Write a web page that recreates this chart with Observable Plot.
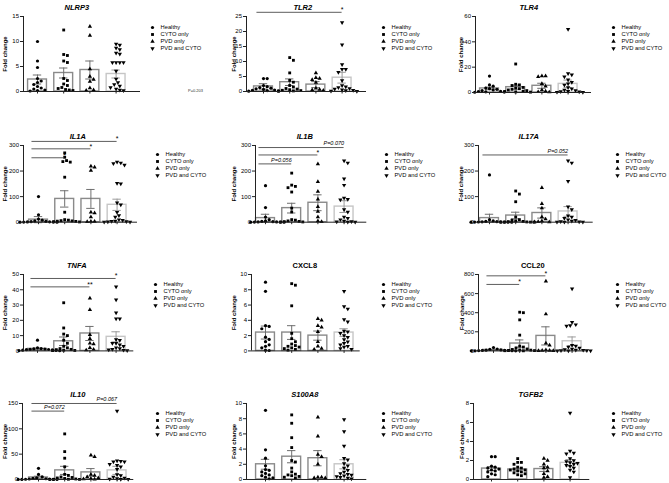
<!DOCTYPE html>
<html><head><meta charset="utf-8">
<script src="https://cdn.jsdelivr.net/npm/d3@7"></script>
<script src="https://cdn.jsdelivr.net/npm/@observablehq/plot@0.6"></script>
<style>
body{margin:0;background:#fff;}
#chart{position:relative;width:669px;height:483px;overflow:hidden;background:#fff;font-family:"Liberation Sans",Arial,sans-serif;}
.note{position:absolute;font-size:4px;color:#333;white-space:nowrap;}
</style></head><body><div id="chart"></div>
<script>
const groups = ["Healthy", "CYTO only", "PVD only", "PVD and CYTO"];

// ---- NLRP3 ----
const nlrp3Values = [
  [10.0, 6.1, 4.8, 2.6, 2.1, 1.8, 1.4, 1.0, 0.7, 0.5, 0.3, 0.2, 0.1],
  [12.3, 7.4, 7.2, 6.1, 5.8, 2.6, 2.2, 1.5, 1.2, 0.8, 0.6, 0.4, 0.3, 0.2],
  [13.0, 11.2, 4.5, 3.0, 2.4, 2.0, 0.7, 0.3, 0.2],
  [9.5, 9.3, 8.7, 8.4, 7.7, 7.5, 5.8, 5.8, 5.8, 5.8, 4.1, 2.5, 1.8, 1.4, 1.1, 0.8, 0.5, 0.3, 0.2]
];
const nlrp3Means = [2.4, 3.7, 4.3, 3.5];
const nlrp3Sems = [0.9, 1.0, 1.8, 0.8];
const nlrp3Ticks = [0, 5, 10, 15];
const nlrp3Sig = [];
const nlrp3Note = "P=0.203";

// ---- TLR2 ----
const tlr2Values = [
  [4.3, 4.3, 2.0, 1.6, 1.3, 1.1, 0.9, 0.7, 0.5, 0.4, 0.3, 0.2, 0.1],
  [11.3, 10.4, 6.2, 3.7, 3.1, 2.0, 1.5, 1.0, 0.8, 0.6, 0.4, 0.3, 0.2, 0.1],
  [6.2, 4.6, 4.3, 3.9, 3.0, 1.1, 0.7, 0.5, 0.3],
  [23.0, 15.6, 9.0, 7.4, 7.4, 6.4, 3.7, 2.0, 1.6, 1.3, 1.0, 0.8, 0.6, 0.4, 0.3, 0.2, 0.1]
];
const tlr2Means = [1.7, 3.1, 2.3, 4.6];
const tlr2Sems = [0.9, 1.1, 1.0, 1.8];
const tlr2Ticks = [0, 5, 10, 15, 20, 25];
const tlr2Sig = [{from: "Healthy", to: "PVD and CYTO", level: 26.4, label: "*"}];

// ---- TLR4 ----
const tlr4Values = [
  [13, 6, 5, 3.5, 3, 2.5, 2, 1.5, 1, 0.8, 0.5, 0.3, 0.2],
  [22.5, 6.5, 6, 5.5, 4, 3.5, 3, 2.5, 2, 1.5, 1, 0.8, 0.5, 0.3],
  [13, 13, 12.5, 7, 5, 2, 1, 0.5, 0.3],
  [50, 15, 14, 12.5, 10, 8, 7, 6, 4, 3, 2, 1.5, 1, 0.8, 0.5, 0.3, 0.2]
];
const tlr4Means = [3.2, 4.2, 5.3, 6.8];
const tlr4Sems = [1.0, 1.6, 2.0, 3.0];
const tlr4Ticks = [0, 20, 40, 60];
const tlr4Sig = [];

// ---- IL1A ----
const il1aValues = [
  [100, 29, 12, 8, 5, 3, 2, 1.5, 1, 0.5, 0.3, 0.2, 0.1],
  [271, 254, 241, 237, 235, 176, 39, 10, 8, 6, 5, 4, 3, 2, 1],
  [219, 215, 202, 39, 36, 20, 3, 3, 2],
  [235, 232, 230, 224, 152, 150, 76, 68, 39, 26, 20, 10, 8, 5, 4, 3, 2, 1, 0.5]
];
const il1aMeans = [10, 91, 91, 68];
const il1aSems = [12, 32, 37, 22];
const il1aTicks = [0, 100, 200, 300];
const il1aSig = [
  {from: "Healthy", to: "PVD and CYTO", level: 316, label: "*"},
  {from: "Healthy", to: "PVD only", level: 287, label: "*"},
  {from: "Healthy", to: "CYTO only", level: 252, label: "*"}
];

// ---- IL1B ----
const il1bValues = [
  [143, 57, 20, 10, 5, 3, 2, 1, 1, 0.5, 0.3, 0.2, 0.1],
  [192, 145, 140, 135, 118, 55, 40, 10, 8, 5, 3, 2, 1, 0.5],
  [228, 158, 120, 90, 60, 42, 20, 5, 2],
  [240, 232, 170, 145, 95, 90, 88, 50, 40, 20, 15, 10, 5, 3, 2, 1, 0.5]
];
const il1bMeans = [16, 55, 76, 61];
const il1bSems = [15, 19, 31, 23];
const il1bTicks = [0, 100, 200, 300];
const il1bSig = [
  {from: "Healthy", to: "PVD and CYTO", level: 292, label: "P=0.070"},
  {from: "Healthy", to: "PVD only", level: 263, label: "*"},
  {from: "Healthy", to: "CYTO only", level: 228, label: "P=0.056"}
];

// ---- IL17A ----
const il17aValues = [
  [185, 10, 5, 3, 2, 1.5, 1, 0.8, 0.5, 0.3, 0.2, 0.1, 0.1],
  [122, 110, 80, 20, 10, 8, 5, 3, 2, 1, 0.5, 0.3, 0.2, 0.1],
  [135, 72, 55, 20, 12, 5, 2, 1, 0.5],
  [240, 232, 160, 60, 50, 25, 20, 15, 10, 8, 5, 3, 2, 1, 0.5, 0.3]
];
const il17aMeans = [16, 26, 36, 42];
const il17aSems = [15, 13, 20, 19];
const il17aTicks = [0, 100, 200, 300];
const il17aSig = [{from: "Healthy", to: "PVD and CYTO", level: 263, label: "P=0.052"}];

// ---- TNFA ----
const tnfaValues = [
  [7, 2, 1.5, 1.3, 1.2, 1, 0.9, 0.8, 0.6, 0.5, 0.3, 0.2, 0.1],
  [31.5, 15, 11, 10, 7, 5, 3, 2, 1.5, 1, 0.8, 0.5, 0.3, 0.2],
  [34.5, 27, 10.5, 8, 5, 4.5, 2, 1, 0.5],
  [42, 33.5, 25, 21, 21, 7.5, 7, 5, 5, 4, 3, 2, 1.5, 1, 0.8, 0.5, 0.3]
];
const tnfaMeans = [1.3, 6.3, 11.4, 9.2];
const tnfaSems = [0.5, 2.8, 4.6, 3.3];
const tnfaTicks = [0, 10, 20, 30, 40, 50];
const tnfaSig = [
  {from: "Healthy", to: "PVD and CYTO", level: 47.4, label: "*"},
  {from: "Healthy", to: "PVD only", level: 41.9, label: "**"}
];

// ---- CXCL8 ----
const cxcl8Values = [
  [9.0, 7.8, 3.3, 3.2, 2.9, 1.8, 1.5, 1.2, 0.8, 0.6, 0.4, 0.1, 0.05],
  [8.8, 8.6, 5.9, 2.3, 1.6, 1.2, 0.9, 0.7, 0.6, 0.5, 0.4, 0.3, 0.2, 0.1],
  [4.2, 4.0, 3.3, 3.1, 2.5, 1.2, 0.6, 0.3, 0.2],
  [7.8, 5.8, 5.5, 4.1, 3.8, 2.6, 2.5, 2.3, 2.0, 1.8, 1.5, 1.2, 1.0, 0.8, 0.6, 0.5, 0.3, 0.2]
];
const cxcl8Means = [2.4, 2.4, 2.0, 2.4];
const cxcl8Sems = [0.85, 0.9, 0.6, 0.5];
const cxcl8Ticks = [0, 2, 4, 6, 8, 10];
const cxcl8Sig = [];

// ---- CCL20 ----
const ccl20Values = [
  [35, 20, 15, 10, 8, 6, 5, 4, 3, 2, 1, 0.5, 0.3],
  [405, 400, 325, 165, 50, 40, 30, 20, 15, 10, 8, 5, 3, 2, 1],
  [730, 385, 80, 60, 10, 5, 3, 2, 1],
  [650, 300, 275, 265, 260, 60, 50, 40, 30, 20, 15, 10, 8, 5, 3, 2, 1, 0.5]
];
const ccl20Means = [10, 77, 157, 101];
const ccl20Sems = [4, 38, 95, 45];
const ccl20Ticks = [0, 200, 400, 600, 800];
const ccl20Sig = [
  {from: "Healthy", to: "PVD only", level: 786, label: "*"},
  {from: "Healthy", to: "CYTO only", level: 696, label: "*"}
];

// ---- IL10 ----
const il10Values = [
  [22, 10, 5, 3, 2, 1.5, 1, 0.8, 0.5, 0.3, 0.2, 0.1, 0.1],
  [90, 55, 42, 25, 10, 8, 5, 4, 3, 2, 1, 0.5, 0.3, 0.2, 0.1],
  [48, 45, 10, 8, 5, 3, 2, 1, 0.5],
  [135, 37, 36, 35, 35, 30, 28, 25, 20, 10, 8, 5, 3, 2, 1, 0.5, 0.3]
];
const il10Means = [4, 18, 14, 18];
const il10Sems = [2.5, 8, 7.5, 8];
const il10Ticks = [0, 50, 100, 150];
const il10Sig = [
  {from: "Healthy", to: "PVD and CYTO", level: 150, label: "P=0.067"},
  {from: "Healthy", to: "CYTO only", level: 135, label: "P=0.072"}
];

// ---- S100A8 ----
const s100a8Values = [
  [9.1, 3.9, 2.8, 1.8, 1.3, 1.2, 1.0, 0.8, 0.6, 0.5, 0.3, 0.2, 0.1],
  [8.5, 7.4, 5.5, 4.2, 2.5, 2.3, 1.5, 1.0, 0.7, 0.6, 0.5, 0.4, 0.3, 0.2],
  [8.2, 5.7, 3.3, 3.0, 2.0, 0.3, 0.3, 0.2, 0.2],
  [7.9, 6.3, 4.4, 2.8, 2.6, 2.1, 1.8, 1.5, 1.2, 1.0, 0.8, 0.7, 0.6, 0.5, 0.4, 0.3, 0.2, 0.1]
];
const s100a8Means = [2.0, 3.0, 2.8, 2.0];
const s100a8Sems = [0.65, 0.8, 1.0, 0.6];
const s100a8Ticks = [0, 2, 4, 6, 8, 10];
const s100a8Sig = [];

// ---- TGFB2 ----
const tgfb2Values = [
  [2.4, 2.4, 1.4, 1.3, 1.2, 1.1, 1.0, 0.9, 0.8, 0.6, 0.5, 0.3],
  [2.2, 1.8, 1.8, 1.6, 1.3, 1.2, 1.1, 1.0, 1.0, 0.9, 0.8, 0.7, 0.6, 0.5, 0.4],
  [2.2, 2.0, 1.6, 1.3, 1.2, 0.9, 0.6, 0.3, 0.2],
  [7.0, 3.0, 2.8, 2.7, 2.2, 2.0, 1.9, 1.8, 1.7, 1.6, 1.5, 1.4, 1.2, 1.0, 0.8, 0.2]
];
const tgfb2Means = [1.15, 1.05, 1.1, 1.75];
const tgfb2Sems = [0.2, 0.15, 0.25, 0.35];
const tgfb2Ticks = [0, 2, 4, 6, 8];
const tgfb2Sig = [];

// ---- panel layout (page pixels) ----
const panels = [
  {title: "NLRP3", italic: true, values: nlrp3Values, means: nlrp3Means, sems: nlrp3Sems, ticks: nlrp3Ticks, sig: nlrp3Sig, axisX: 23, xEnd: 140, yTop: 16, yBot: 91, first: 14, legendX: 152, legendY: 22, labelX: 4.5},
  {title: "TLR2", italic: true, values: tlr2Values, means: tlr2Means, sems: tlr2Sems, ticks: tlr2Ticks, sig: tlr2Sig, axisX: 246, xEnd: 366, yTop: 16, yBot: 91, first: 17, legendX: 383, legendY: 22, labelX: 233.5},
  {title: "TLR4", italic: true, values: tlr4Values, means: tlr4Means, sems: tlr4Sems, ticks: tlr4Ticks, sig: tlr4Sig, axisX: 475, xEnd: 591, yTop: 16, yBot: 92, first: 14, legendX: 613, legendY: 22, labelX: 461},
  {title: "IL1A", italic: true, values: il1aValues, means: il1aMeans, sems: il1aSems, ticks: il1aTicks, sig: il1aSig, axisX: 23, xEnd: 137, yTop: 145, yBot: 221.7, first: 15, legendX: 157, legendY: 149.3, labelX: 4.5},
  {title: "IL1B", italic: true, values: il1bValues, means: il1bMeans, sems: il1bSems, ticks: il1bTicks, sig: il1bSig, axisX: 254.7, xEnd: 366, yTop: 145, yBot: 221.7, first: 10, legendX: 386, legendY: 149.3, labelX: 233.5},
  {title: "IL17A", italic: true, values: il17aValues, means: il17aMeans, sems: il17aSems, ticks: il17aTicks, sig: il17aSig, axisX: 478, xEnd: 592.7, yTop: 145, yBot: 221.7, first: 11, legendX: 616.5, legendY: 149.3, labelX: 461},
  {title: "TNFA", italic: true, values: tnfaValues, means: tnfaMeans, sems: tnfaSems, ticks: tnfaTicks, sig: tnfaSig, axisX: 22.7, xEnd: 133, yTop: 274.3, yBot: 350.7, first: 14, legendX: 155, legendY: 279.3, labelX: 4.5},
  {title: "CXCL8", italic: false, values: cxcl8Values, means: cxcl8Means, sems: cxcl8Sems, ticks: cxcl8Ticks, sig: cxcl8Sig, axisX: 251, xEnd: 359.7, yTop: 274.3, yBot: 350.7, first: 14, legendX: 383, legendY: 279.3, labelX: 233.5},
  {title: "CCL20", italic: false, values: ccl20Values, means: ccl20Means, sems: ccl20Sems, ticks: ccl20Ticks, sig: ccl20Sig, axisX: 477.7, xEnd: 586, yTop: 274.3, yBot: 350.7, first: 15, legendX: 616.5, legendY: 279.3, labelX: 461},
  {title: "IL10", italic: true, values: il10Values, means: il10Means, sems: il10Sems, ticks: il10Ticks, sig: il10Sig, axisX: 21.7, xEnd: 133, yTop: 403.3, yBot: 479.3, first: 16, legendX: 157, legendY: 408.3, labelX: 4.5},
  {title: "S100A8", italic: true, values: s100a8Values, means: s100a8Means, sems: s100a8Sems, ticks: s100a8Ticks, sig: s100a8Sig, axisX: 245.7, xEnd: 366, yTop: 403.3, yBot: 479.3, first: 19, legendX: 383, legendY: 408.3, labelX: 233.5},
  {title: "TGFB2", italic: true, values: tgfb2Values, means: tgfb2Means, sems: tgfb2Sems, ticks: tgfb2Ticks, sig: tgfb2Sig, axisX: 472.7, xEnd: 589, yTop: 403.3, yBot: 479.3, first: 18, legendX: 613, legendY: 408.3, labelX: 461}
];

const SP = 26.2;          // px per group step
const BW = 0.72;          // bar width (group units)
const CAP = 0.16;         // error cap half width (group units)
const R = 1.6;            // dot radius
const barColors = ["#8a8a8a", "#8a8a8a", "#8a8a8a", "#c6c6c6"];
const errColors = ["#6e6e6e", "#6e6e6e", "#6e6e6e", "#9a9a9a"];
const FONT = "'Liberation Sans', Arial, Helvetica, sans-serif";

const triangleDown = {
  draw(context, size) {
    const y = -Math.sqrt(size / (Math.sqrt(3) * 3));
    context.moveTo(0, -y * 2);
    context.lineTo(-Math.sqrt(3) * y, y);
    context.lineTo(Math.sqrt(3) * y, y);
    context.closePath();
  }
};
const symbols = ["circle", "square", "triangle", triangleDown];

function swarm(values, toPx, r) {
  const order = values.map((v, i) => i).sort((a, b) => values[b] - values[a]);
  const placed = [];
  const out = new Array(values.length);
  const d = 2 * r + 0.5;
  for (const i of order) {
    const y = toPx(values[i]);
    let off = 0;
    for (let k = 0; k < 80; k++) {
      const o = k === 0 ? 0 : (k % 2 ? 1 : -1) * Math.ceil(k / 2) * d / 2;
      if (placed.every(p => (p.x - o) ** 2 + (p.y - y) ** 2 >= d * d)) { off = o; break; }
    }
    placed.push({x: off, y});
    out[i] = off;
  }
  return out;
}

const chart = document.getElementById("chart");

function place(svg, left, top) {
  svg.setAttribute("font-family", FONT);
  svg.style.position = "absolute";
  svg.style.left = left + "px";
  svg.style.top = top + "px";
  svg.style.overflow = "visible";
  svg.style.background = "transparent";
  svg.style.maxWidth = "none";
  chart.appendChild(svg);
}

for (const p of panels) {
  const mL = 26, mR = 2, mT = 16, mB = 5;
  const plotW = p.xEnd - p.axisX, plotH = p.yBot - p.yTop;
  const max = p.ticks[p.ticks.length - 1];
  const x0 = -p.first / SP, x1 = (plotW - p.first) / SP;
  const toPx = v => v / max * plotH;
  const bars = groups.map((g, i) => ({g, i, mean: p.means[i], sem: p.sems[i]}));
  const marks = [];
  marks.push(Plot.rect(bars, {x1: d => d.i - BW / 2, x2: d => d.i + BW / 2, y1: 0, y2: "mean", fill: "white", stroke: d => barColors[d.i], strokeWidth: 1.4}));
  marks.push(Plot.ruleX(bars, {x: "i", y1: d => d.mean - d.sem, y2: d => d.mean + d.sem, stroke: d => errColors[d.i], strokeWidth: 1}));
  marks.push(Plot.ruleY(bars, {y: d => d.mean + d.sem, x1: d => d.i - CAP, x2: d => d.i + CAP, stroke: d => errColors[d.i], strokeWidth: 1}));
  marks.push(Plot.ruleY(bars, {y: d => d.mean - d.sem, x1: d => d.i - CAP, x2: d => d.i + CAP, stroke: d => errColors[d.i], strokeWidth: 1}));
  p.values.forEach((vals, gi) => {
    const offs = swarm(vals, toPx, R);
    const pts = vals.map((v, k) => ({v, x: gi + offs[k] / SP}));
    marks.push(Plot.dot(pts, {x: "x", y: "v", symbol: symbols[gi], fill: "black", stroke: "none", r: R}));
  });
  marks.push(Plot.ruleX([x0], {y1: 0, y2: max, stroke: "#222", strokeWidth: 1}));
  marks.push(Plot.ruleY([0], {x1: x0, x2: x1, stroke: "#222", strokeWidth: 1}));
  marks.push(Plot.axisY({ticks: p.ticks, tickSize: 3, tickPadding: 1.5, fontSize: 6, label: null, stroke: "#222"}));
  marks.push(Plot.axisX({ticks: [0, 1, 2, 3], tickSize: 2.5, tickFormat: () => "", label: null, stroke: "#222"}));
  marks.push(Plot.text([p.title], {x: 1.5, frameAnchor: "top", dy: -12, fontWeight: "bold", fontStyle: p.italic ? "italic" : "normal", fontSize: 7.5}));
  marks.push(Plot.text(["Fold change"], {frameAnchor: "left", dx: p.labelX - p.axisX, rotate: -90, fontSize: 6, fontWeight: "bold", textAnchor: "middle"}));
  if (p.sig.length) {
    marks.push(Plot.ruleY(p.sig, {y: "level", x1: d => groups.indexOf(d.from) - 0.25, x2: d => groups.indexOf(d.to), stroke: "#333", strokeWidth: 0.8}));
    marks.push(Plot.text(p.sig.filter(d => d.label.startsWith("*")), {x: d => groups.indexOf(d.to), y: "level", text: "label", dy: -2.5, fontSize: 7, textAnchor: "middle"}));
    marks.push(Plot.text(p.sig.filter(d => !d.label.startsWith("*")), {x: d => groups.indexOf(d.to), y: "level", text: "label", dy: -4, fontSize: 5.5, fontStyle: "italic", textAnchor: "end"}));
  }
  const svg = Plot.plot({
    width: mL + plotW + mR, height: mT + plotH + mB,
    marginLeft: mL, marginRight: mR, marginTop: mT, marginBottom: mB,
    x: {domain: [x0, x1]},
    y: {domain: [0, max]},
    color: {type: "identity"},
    marks
  });
  place(svg, p.axisX - mL, p.yTop - mT);

  // legend
  const rowH = 10.3, pad = 3;
  const leg = Plot.plot({
    width: 60, height: pad * 2 + rowH * 3,
    margin: 0,
    x: {domain: [0, 1], range: [pad, 57], axis: null},
    y: {type: "point", domain: groups, range: [pad, pad + rowH * 3], axis: null},
    marks: groups.map((g, gi) => Plot.dot([g], {x: 0, y: d => d, symbol: symbols[gi], fill: "black", stroke: "none", r: R}))
      .concat([Plot.text(groups, {x: 0, y: d => d, text: d => d, dx: 8, textAnchor: "start", fontSize: 5.8})])
  });
  place(leg, p.legendX - pad, p.legendY - pad);
}

const note = document.createElement("div");
note.className = "note";
note.textContent = nlrp3Note;
note.style.left = "188px";
note.style.top = "88px";
chart.appendChild(note);
</script></body></html>
